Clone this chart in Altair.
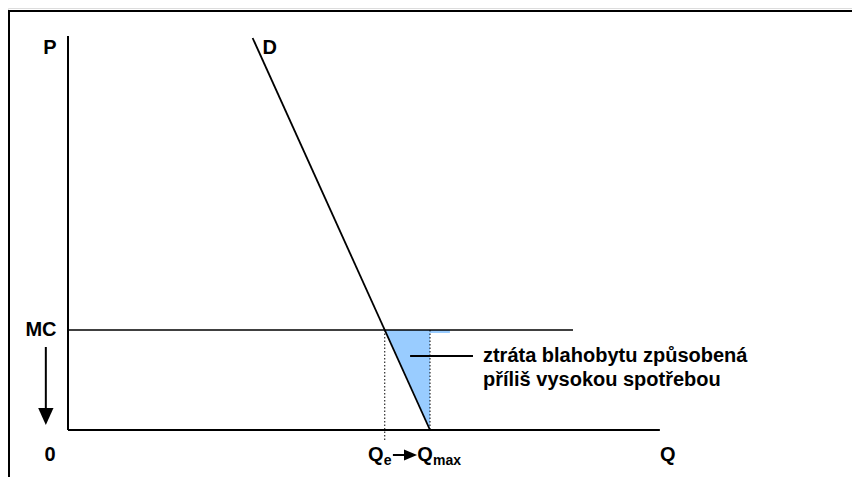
import altair as alt
import pandas as pd

# ---- economic model values (arbitrary units) ----
Q_E = 7.0          # efficient quantity Qe (D meets MC)
Q_MAX = 8.0        # quantity at zero price, Qmax
MC = 2.0           # marginal cost level
D_Q = [4.08, 8.0]  # demand line end points (quantity)
D_P = [7.84, 0.0]  # demand line end points (price)
Q_AXIS_END = 13.08
P_AXIS_END = 7.88
MC_END = 11.16
NOTE_LINES = ["ztráta blahobytu způsobená", "příliš vysokou spotřebou"]

FONT = "Liberation Sans"
FS = 20
SUB = 14
W, H = 844, 469
xs = alt.Scale(domain=[0, 13], range=[60, 60 + 13 * 45.25], nice=False, zero=False)
ys = alt.Scale(domain=[0, 8], range=[422, 22], nice=False, zero=False)


def X(f="q"):
    return alt.X(f"{f}:Q", scale=xs, axis=None)


def Y(f="p"):
    return alt.Y(f"{f}:Q", scale=ys, axis=None)


one = pd.DataFrame({"a": [0]})

# outer frame (top and left edges visible)
frame_top = alt.Chart(one).mark_rule(color="#000", strokeWidth=2).encode(
    x=alt.value(0), x2=alt.value(W), y=alt.value(3))
frame_left = alt.Chart(one).mark_rule(color="#000", strokeWidth=2).encode(
    x=alt.value(1), y=alt.value(3), y2=alt.value(H))

# welfare loss triangle
tri = pd.DataFrame({"q": [Q_E, Q_MAX], "top": [MC, MC], "bot": [MC, 0.0]})
area = alt.Chart(tri).mark_area(color="#99CCFF", opacity=1).encode(
    x=X(), y=Y("top"), y2=alt.Y2("bot:Q"))
strip = alt.Chart(pd.DataFrame({"q": [Q_MAX], "q2": [Q_MAX + 0.44], "p": [MC], "p2": [MC - 0.06]})).mark_rect(
    color="#99CCFF").encode(x=X(), x2="q2:Q", y=Y(), y2="p2:Q")

# axes
axes_df = pd.DataFrame({"q": [0, 0], "q2": [0, Q_AXIS_END], "p": [P_AXIS_END, 0], "p2": [0, 0]})
axes = alt.Chart(axes_df).mark_rule(color="#000", strokeWidth=2).encode(
    x=X(), x2="q2:Q", y=Y(), y2="p2:Q")

# MC line
mc = alt.Chart(pd.DataFrame({"q": [0], "q2": [MC_END], "p": [MC]})).mark_rule(
    color="#000", strokeWidth=1.6).encode(x=X(), x2="q2:Q", y=Y())

# demand line
dem = alt.Chart(pd.DataFrame({"q": D_Q, "p": D_P})).mark_line(
    color="#000", strokeWidth=1.8).encode(x=X(), y=Y())

# dotted verticals at Qe and Qmax
dots = alt.Chart(pd.DataFrame({"q": [Q_E, Q_MAX], "p": [MC, MC], "p2": [-0.2, 0.0]})).mark_rule(
    color="#000", strokeWidth=1, strokeDash=[1.5, 2]).encode(x=X(), y=Y(), y2="p2:Q")

# annotation pointer and text
ptr = alt.Chart(pd.DataFrame({"q": [7.56], "q2": [8.95], "p": [1.48]})).mark_rule(
    color="#000", strokeWidth=2).encode(x=X(), x2="q2:Q", y=Y())
note = alt.Chart(pd.DataFrame({"q": [9.17], "p": [1.48], "t": [NOTE_LINES]})).mark_text(
    font=FONT, fontSize=FS, fontWeight="bold", align="left", baseline="middle",
    lineHeight=24, dy=0).encode(x=X(), y=Y(), text="t")

# MC down arrow
arr = alt.Chart(pd.DataFrame({"q": [-0.49], "p": [1.66], "p2": [0.35]})).mark_rule(
    color="#000", strokeWidth=2).encode(x=X(), y=Y(), y2="p2:Q")
arr_head = alt.Chart(pd.DataFrame({"q": [-0.49], "p": [0.27]})).mark_point(
    shape="M-0.9,-1L0.9,-1L0,1Z", size=290, filled=True, color="#000", opacity=1).encode(x=X(), y=Y())

# Qe -> Qmax arrow
qarr = alt.Chart(pd.DataFrame({"q": [Q_E + 0.18], "q2": [Q_E + 0.5], "p": [-0.5]})).mark_rule(
    color="#000", strokeWidth=2).encode(x=X(), x2="q2:Q", y=Y())
qarr_head = alt.Chart(pd.DataFrame({"q": [Q_E + 0.57], "p": [-0.5]})).mark_point(
    shape="M-1,-0.85L1,0L-1,0.85Z", size=170, filled=True, color="#000", opacity=1).encode(x=X(), y=Y())


def label(q, p, txt, size=FS, dx=0, dy=0, align="center"):
    return alt.Chart(pd.DataFrame({"q": [q], "p": [p], "t": [txt]})).mark_text(
        font=FONT, fontSize=size, fontWeight="bold", align=align, baseline="middle",
        dx=dx, dy=dy).encode(x=X(), y=Y(), text="t")


labels = [
    label(0, P_AXIS_END, "P", dx=-18, dy=12),
    label(D_Q[0], D_P[0], "D", dx=17, dy=10),
    label(0, MC, "MC", dx=-27, dy=0),
    label(0, 0, "0", dx=-18, dy=25),
    label(Q_AXIS_END, 0, "Q", dx=8, dy=25),
    label(Q_E, 0, "Q", dx=-9, dy=25),
    label(Q_E, 0, "e", size=SUB, dx=-1, dy=31, align="left"),
    label(Q_MAX, 0, "Q", dx=-5, dy=25),
    label(Q_MAX, 0, "max", size=SUB, dx=3, dy=31, align="left"),
]

chart = alt.layer(
    frame_top, frame_left, area, strip, axes, mc, dem, dots, ptr, note,
    arr, arr_head, qarr, qarr_head, *labels
).properties(width=W, height=H, padding=0, autosize=alt.AutoSizeParams(type="none")).configure_view(
    stroke=None).configure(background="white")

chart.save("out.html", embed_options={"renderer": "svg", "actions": False})
